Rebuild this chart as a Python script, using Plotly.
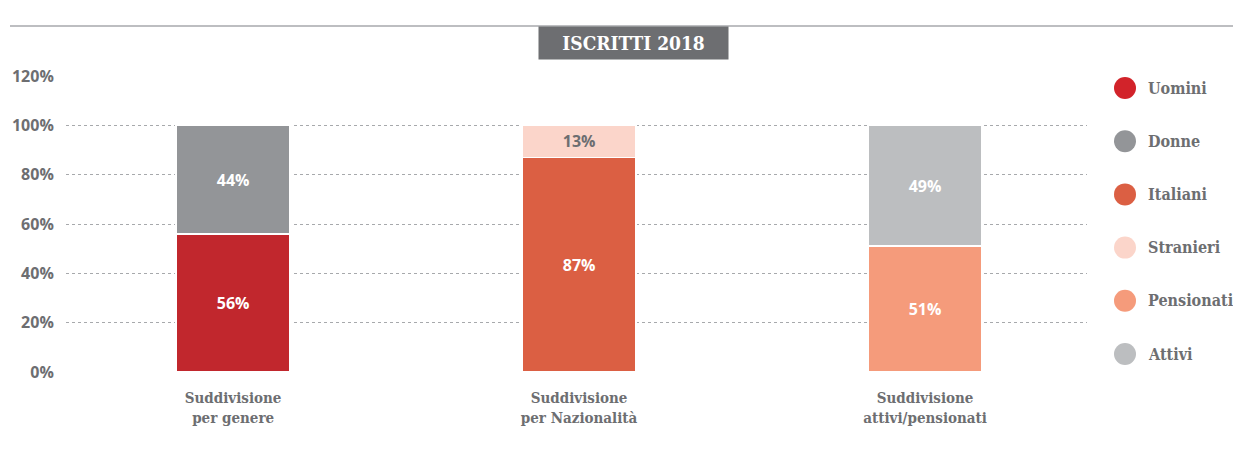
import plotly.graph_objects as go

categories = ["Suddivisione<br>per genere", "Suddivisione<br>per Nazionalità", "Suddivisione<br>attivi/pensionati"]
series_names = ["Uomini", "Donne", "Italiani", "Stranieri", "Pensionati", "Attivi"]
series_cat = [0, 0, 1, 1, 2, 2]
series_values = [56, 44, 87, 13, 51, 49]
bar_colors = ["#c1272d", "#939598", "#db5f43", "#fbd5ca", "#f59b7b", "#bcbec0"]
legend_colors = ["#d2232a", "#939598", "#db5f43", "#fbd5ca", "#f59b7b", "#bcbec0"]
label_colors = ["#ffffff", "#ffffff", "#ffffff", "#6d6e71", "#ffffff", "#ffffff"]
y_ticks = [0, 20, 40, 60, 80, 100, 120]
title_text = "ISCRITTI 2018"

OFF = 8  # page body margin
W, H = 1241 - OFF, 454 - OFF
PL, PR, PT, PB = 66, 1087, 76, 372  # plot area in page pixels
L, R, T, B = PL - OFF, (W + OFF) - PR, PT - OFF, (H + OFF) - PB
GRAY = "#6d6e71"
SERIF = "DejaVu Serif Condensed, DejaVu Serif, serif"
SANS = "Open Sans, Noto Sans, sans-serif"

def px_x(x):
    return (x - PL) / (PR - PL)

def px_y(y):
    return (PB - y) / (PB - PT)

fig = go.Figure()
for name, c, v, col, lc in zip(series_names, series_cat, series_values, bar_colors, label_colors):
    fig.add_trace(go.Bar(
        x=[c], y=[v], name=name, marker=dict(color=col, line=dict(color="white", width=1.5)),
        width=0.33, text=[f"{v}%"], texttemplate="%{text}", textposition="inside",
        insidetextanchor="middle", textangle=0, constraintext="none",
        textfont=dict(color=lc, size=16, family=SANS, weight=700),
        showlegend=False, hoverinfo="skip"))

fig.update_layout(
    barmode="stack", width=W, height=H,
    margin=dict(l=L, r=R, t=T, b=B, autoexpand=False),
    paper_bgcolor="white", plot_bgcolor="white",
    xaxis=dict(range=[-0.483, 2.468], tickmode="array", tickvals=[0, 1, 2], ticktext=categories,
               ticks="outside", ticklen=12, tickcolor="rgba(0,0,0,0)", showgrid=False, zeroline=False,
               showline=False, tickfont=dict(family=SERIF, size=15, color=GRAY, weight=700)),
    yaxis=dict(range=[0, 120], tickmode="array", tickvals=y_ticks, ticktext=[f"{t}%" for t in y_ticks],
               ticks="outside", ticklen=8, tickcolor="rgba(0,0,0,0)", showgrid=True,
               gridcolor="#a7a9ac", griddash="dot", gridwidth=1, zeroline=False, showline=False,
               tickfont=dict(family=SANS, size=16, color=GRAY, weight=700)),
)

# Title line and box
fig.add_shape(type="line", xref="paper", yref="paper", x0=px_x(10), x1=px_x(1241),
              y0=px_y(26), y1=px_y(26), line=dict(color="#a7a9ac", width=1.5), layer="below")
fig.add_annotation(xref="paper", yref="paper", x=px_x(633.5), y=px_y(26), text=f"<b>{title_text}</b>",
                   showarrow=False, bgcolor=GRAY, width=183, height=26, borderpad=3,
                   font=dict(family=SERIF, size=19, color="white"))

# Custom legend
for i, (name, col) in enumerate(zip(series_names, legend_colors)):
    cy = 88 + i * 53.2
    fig.add_shape(type="circle", xref="paper", yref="paper", x0=px_x(1114), x1=px_x(1136),
                  y0=px_y(cy + 11), y1=px_y(cy - 11), fillcolor=col, line=dict(width=0))
    fig.add_annotation(xref="paper", yref="paper", x=px_x(1146), y=px_y(cy), xanchor="left",
                       yanchor="middle", text=f"<b>{name}</b>", showarrow=False,
                       font=dict(family=SERIF, size=16, color=GRAY))

fig.write_html("out.html")
